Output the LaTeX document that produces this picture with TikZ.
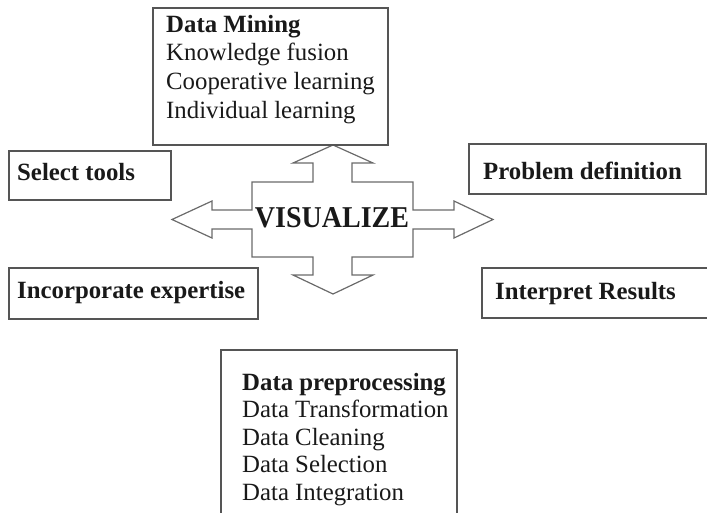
\documentclass[tikz,border=0pt]{standalone}
\usepackage{fontspec}
\setmainfont{Liberation Serif}

\definecolor{edgegray}{HTML}{555555}
\definecolor{arrowgray}{HTML}{6A6A6A}

\tikzset{
  box/.style={draw=edgegray, line width=1.4pt},
  entry/.style={anchor=base west, inner sep=0pt, text=black!90, font=\fontsize{24.8}{28}\selectfont},
  head/.style={entry, font=\fontsize{24.8}{28}\selectfont\bfseries},
}

\begin{document}
\begin{tikzpicture}[x=1pt,y=-1pt]
\clip (0,0) rectangle (707,512);

% four-way arrow in the middle
\draw[arrowgray, line width=1.2pt] (333,145) -- (373,163) -- (352,163) -- (352,182) -- (413,182) -- (413,210) -- (454,210) -- (454,201) -- (493,219.5) -- (454,238) -- (454,229) -- (413,229) -- (413,257) -- (352,257) -- (352,275) -- (373,275) -- (333,294) -- (293,275) -- (313,275) -- (313,257) -- (252,257) -- (252,229) -- (212,229) -- (212,238) -- (172,219.5) -- (212,201) -- (212,210) -- (252,210) -- (252,182) -- (313,182) -- (313,163) -- (293,163) -- cycle;
\node[anchor=base, inner sep=0pt, text=black!90, font=\fontsize{28}{32}\selectfont\bfseries, yscale=1.08] (vis) at (332,227) {VISUALIZE};

% top box
\draw[box] (153,8) rectangle (388,145);
\node[head] (mining) at (166,32) {Data Mining};
\foreach \t [count=\i] in {Knowledge fusion, Cooperative learning, Individual learning}
  \node[entry] (mining-\i) at (166,32+28.7*\i) {\t};

% side boxes
\draw[box] (9,151) rectangle (171,200); \node[head] (tools) at (17,180) {Select tools};
\draw[box] (9,268) rectangle (258,319); \node[head] (expert) at (17,298) {Incorporate expertise};
\draw[box] (469,144) rectangle (706,194); \node[head] (problem) at (483,179) {Problem definition};
\draw[box] (482,268) rectangle (720,318); \node[head] (results) at (495,299) {Interpret Results};

% bottom box
\draw[box] (221,350) rectangle (457,530);
\node[head] (prep) at (242,390) {Data preprocessing};
\foreach \t [count=\i] in {Data Transformation, Data Cleaning, Data Selection, Data Integration}
  \node[entry] (prep-\i) at (242,390+27.5*\i) {\t};

\end{tikzpicture}
\end{document}
